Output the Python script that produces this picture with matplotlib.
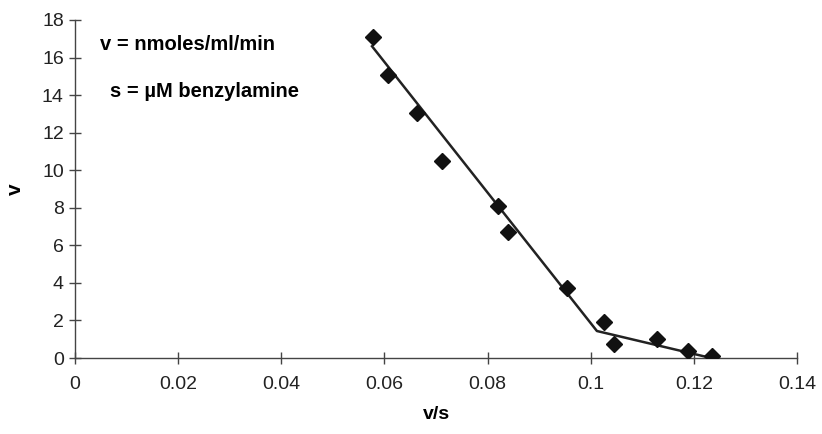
import matplotlib
matplotlib.use("Agg")
import matplotlib.pyplot as plt

plt.rcParams['font.family'] = ['Liberation Sans', 'DejaVu Sans']

# data points
vs = [0.0578, 0.0607, 0.0663, 0.0712, 0.0820, 0.0840, 0.0954, 0.1026, 0.1045, 0.1129, 0.1189, 0.1235]
v = [17.1, 15.07, 13.05, 10.49, 8.09, 6.71, 3.73, 1.92, 0.75, 1.01, 0.37, 0.11]

# two-segment fitted line
fit_x = [0.0576, 0.1012, 0.1226]
fit_y = [16.6, 1.44, 0.05]

fig = plt.figure(figsize=(8.22, 4.34), dpi=100)
ax = fig.add_axes([0.0912, 0.175, 0.8784, 0.779])

ax.plot(fit_x, fit_y, color='#222222', lw=1.8, zorder=2)
ax.plot(vs, v, linestyle='none', marker='D', markersize=8.5, color='#111111', zorder=3)

ax.set_xlim(0, 0.14)
ax.set_ylim(0, 18)
ax.set_xticks([0, 0.02, 0.04, 0.06, 0.08, 0.1, 0.12, 0.14])
ax.set_xticklabels(['0', '0.02', '0.04', '0.06', '0.08', '0.1', '0.12', '0.14'])
ax.set_yticks(range(0, 19, 2))

for s in ['top', 'right']:
    ax.spines[s].set_visible(False)
for s in ['left', 'bottom']:
    ax.spines[s].set_color('#444444')
    ax.spines[s].set_linewidth(1.0)
ax.tick_params(axis='both', direction='inout', length=8, width=1.0, color='#444444',
               labelsize=14, labelcolor='#222222')
ax.tick_params(axis='x', pad=9)
ax.tick_params(axis='y', pad=4)

ax.set_xlabel('v/s', fontsize=14, fontweight='bold', labelpad=9)
ax.set_ylabel('v', fontsize=15, fontweight='bold', labelpad=12)

ax.text(0.0048, 16.7, 'v = nmoles/ml/min', fontsize=14.5, fontweight='bold', va='center')
ax.text(0.0067, 14.2, 's = µM benzylamine', fontsize=14.5, fontweight='bold', va='center')

fig.savefig('out.png', dpi=100)
